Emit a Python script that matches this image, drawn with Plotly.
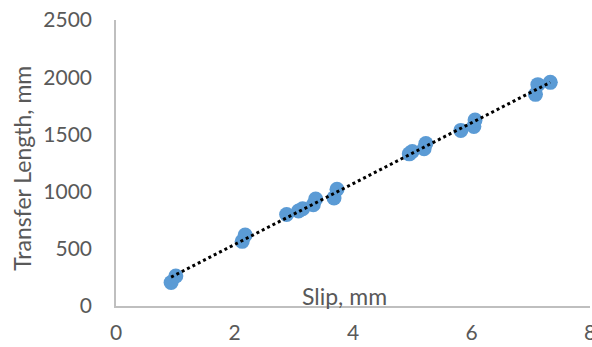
import numpy as np
import plotly.graph_objects as go

slip = [0.93, 1.01, 2.13, 2.18, 2.88, 3.08, 3.15, 3.33, 3.37, 3.68, 3.73,
        4.95, 5.00, 5.20, 5.23, 5.82, 6.04, 6.06, 7.08, 7.12, 7.33]
transfer = [205, 262, 565, 620, 800, 830, 850, 885, 935, 945, 1020,
            1330, 1350, 1375, 1420, 1535, 1570, 1625, 1850, 1935, 1955]

x_ticks = [0, 2, 4, 6, 8]
y_ticks = [0, 500, 1000, 1500, 2000, 2500]

coef = np.polyfit(slip, transfer, 1)
xt = np.array([min(slip), max(slip)])
yt = np.polyval(coef, xt)

font = "Lato"
gray = "#595959"

fig = go.Figure()
fig.add_trace(go.Scatter(x=slip, y=transfer, mode="markers",
                         marker=dict(size=15, color="#5B9BD5", line=dict(width=0)),
                         showlegend=False))
fig.add_trace(go.Scatter(x=xt, y=yt, mode="lines",
                         line=dict(color="black", width=3, dash="dot"),
                         showlegend=False))

fig.update_layout(
    width=592, height=347,
    margin=dict(l=116, r=2, t=20, b=41, autoexpand=False),
    paper_bgcolor="white", plot_bgcolor="white",
    font=dict(family=font, size=21, color=gray),
    xaxis=dict(range=[0, 8], tickvals=x_ticks, showgrid=False, zeroline=False,
               showline=True, linecolor="#BFBFBF", linewidth=1.5, automargin=False,
               ticks="", ticklabelstandoff=7, ticklabeloverflow="allow"),
    yaxis=dict(range=[0, 2500], tickvals=y_ticks, showgrid=False, zeroline=False,
               showline=True, linecolor="#BFBFBF", linewidth=1.5, automargin=False,
               ticks="", ticklabelstandoff=18),
    annotations=[
        dict(text="Slip, mm", x=(344 - 116) / 474, y=0, xref="paper", yref="paper",
             xanchor="center", yanchor="bottom", yshift=-6, showarrow=False,
             font=dict(family=font, size=23, color=gray)),
        dict(text="Transfer Length, mm", x=(22 - 116) / 474, y=0.48, xref="paper",
             yref="paper", xanchor="center", yanchor="middle", textangle=-90,
             showarrow=False, font=dict(family=font, size=23, color=gray)),
    ],
)

fig.write_html("out.html")
